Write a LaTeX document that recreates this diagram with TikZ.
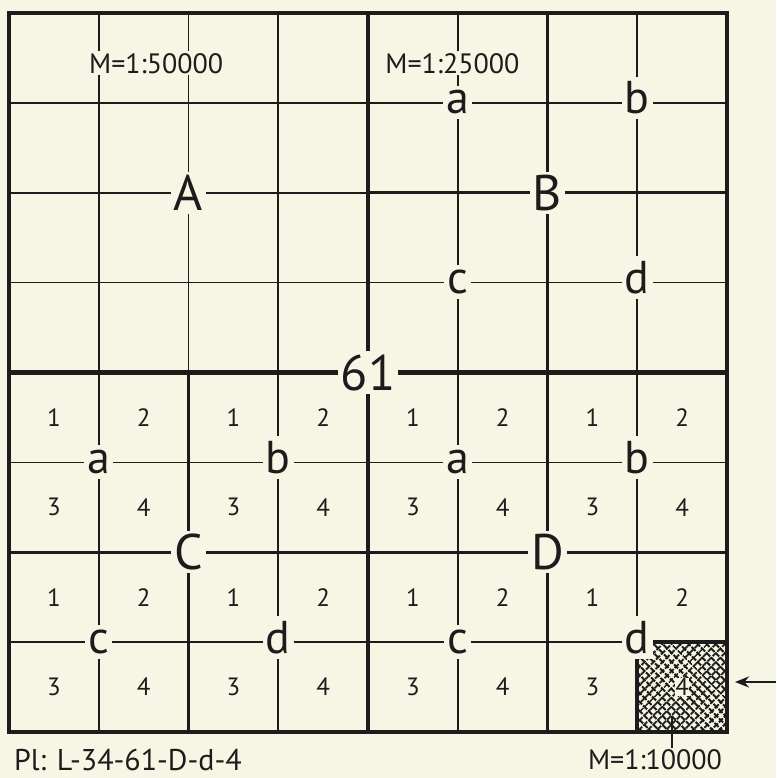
\documentclass[tikz,border=0pt]{standalone}
\usepackage{fontspec}
\setmainfont{PT Sans}
\usetikzlibrary{arrows.meta, patterns.meta}
\definecolor{papier}{RGB}{247,246,229}
\definecolor{tinte}{RGB}{28,28,28}
\tikzset{
	duenn/.style={line width=1.7pt},
	mittel/.style={line width=3pt},
	dick/.style={line width=4.2pt},
	blatt/.style={fill=papier, inner sep=3pt, font=\fontsize{50}{50}\selectfont},
	teil/.style={fill=papier, inner xsep=3pt, inner ysep=5pt, anchor=base, yshift=-11pt, font=\fontsize{46}{46}\selectfont},
	nummer/.style={fill=papier, inner sep=1pt, font=\fontsize{25}{25}\selectfont},
	massstab/.style={fill=papier, inner sep=2pt, font=\fontsize{28}{28}\selectfont},
}

\begin{document}
\begin{tikzpicture}[x=1pt, y=-1pt, tinte]

	\fill[papier] (0,0) rectangle (776,778);
	\useasboundingbox (0,0) rectangle (776,778);

	\begin{scope}[shift={(9,13)}, x=89.75pt, y=-89.875pt]
		% 1:10000
		\foreach \i in {1,3,5,7} {
			\draw[duenn] (\i,0) -- (\i,8);
			\draw[duenn] (0,\i) -- (8,\i);
		}
		% 1:25000
		\draw[duenn] (2,0) -- (2,4) (0,2) -- (4,2);
		\draw[mittel] (2,4) -- (2,8) (6,0) -- (6,8) (0,6) -- (8,6) (4,2) -- (8,2);

		\fill[pattern={Lines[angle=45, distance=6.5pt, line width=2.3pt]}, pattern color=tinte] (7,7) rectangle (8,8);
		\fill[pattern={Lines[angle=-45, distance=6.5pt, line width=2.3pt]}, pattern color=tinte] (7,7) rectangle (8,8);
		\draw[dick] (7,8) -- (7,7) -- (8,7);

		% 1:50000 und Blattrand
		\draw[dick] (4,0) -- (4,8) (0,4) -- (8,4);
		\draw[line width=4.8pt] (0,0) rectangle (8,8);

		\node[massstab] (m50) at (1.64,0.56) {M=1:50000};
		\node[massstab] (m25) at (4.94,0.56) {M=1:25000};

		\node[blatt] (A) at (2,2) {A};
		\node[blatt] (B) at (6,2) {B};
		\node[blatt] (C) at (2,6) {C};
		\node[blatt] (D) at (6,6) {D};
		\node[blatt] (61) at (4,4) {61};

		\node[teil] (Ba) at (5,1) {a};
		\node[teil] (Bb) at (7,1) {b};
		\node[teil] (Bc) at (5,3) {c};
		\node[teil] (Bd) at (7,3) {d};
		\foreach \s/\q in {0/C, 4/D} {
			\node[teil] (\q a) at (\s+1,5) {a};
			\node[teil] (\q b) at (\s+3,5) {b};
			\node[teil] (\q c) at (\s+1,7) {c};
			\node[teil] (\q d) at (\s+3,7) {d};
		}

		\foreach \s in {0,2,4,6}
			\foreach \z in {4,6} {
				\node[nummer] (n\s\z1) at (\s+0.5,\z+0.5) {1};
				\node[nummer] (n\s\z2) at (\s+1.5,\z+0.5) {2};
				\node[nummer] (n\s\z3) at (\s+0.5,\z+1.5) {3};
				\node[nummer, inner sep=0pt] (n\s\z4) at (\s+1.5,\z+1.5) {4};
			}
	\end{scope}

	\node[massstab, inner sep=0pt] (m10) at (655,760) {M=1:10000};
	\coordinate (strich) at (672,716);
	\draw[duenn] (strich) -- ([yshift=2pt]strich |- m10.north);

	\coordinate (pfeilende) at (776,682);
	\coordinate (pfeilspitze) at (735,682);
	\draw[line width=2.8pt, -{Stealth[length=14pt, width=11pt]}] (pfeilende) -- (pfeilspitze);

	\node[anchor=west, inner sep=0pt, font=\fontsize{30}{30}\selectfont] (pl) at (14,760) {Pl: L-34-61-D-d-4};
\end{tikzpicture}
\end{document}
